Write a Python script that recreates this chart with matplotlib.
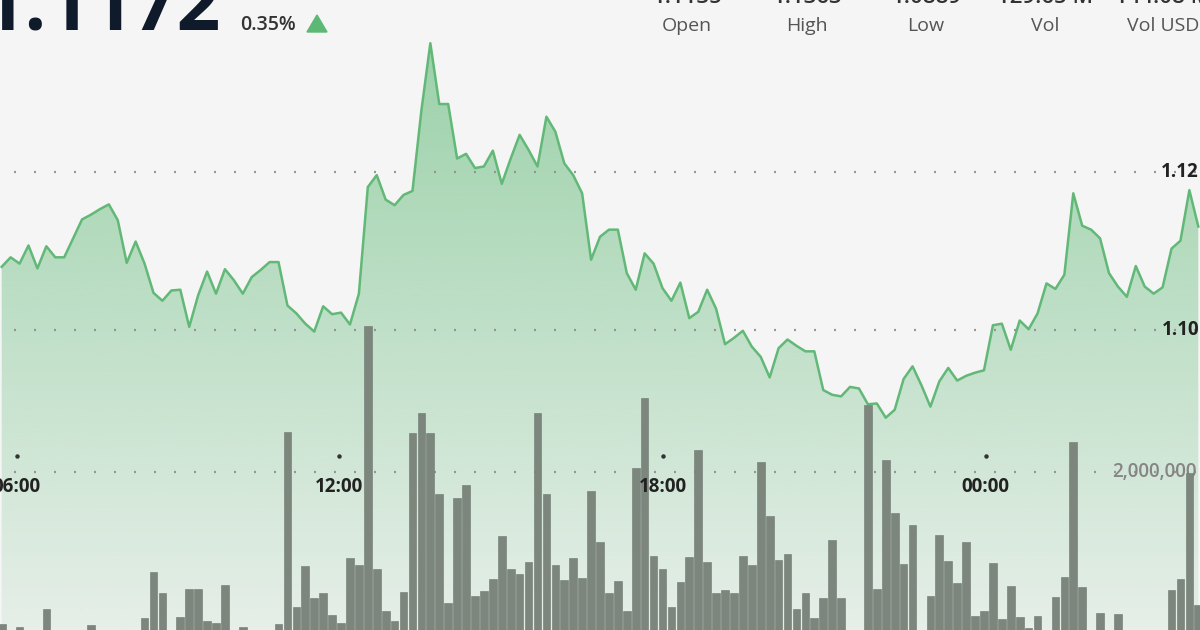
import matplotlib
matplotlib.use('Agg')
import matplotlib.pyplot as plt
import numpy as np
from matplotlib.patches import Polygon
from matplotlib.transforms import blended_transform_factory

plt.rcParams['font.family'] = ['Open Sans', 'DejaVu Sans']
plt.rcParams['lines.scale_dashes'] = False

# 10-minute samples, left to right
price = [1.1080, 1.1092, 1.1084, 1.1107, 1.1078, 1.1106, 1.1092, 1.1092, 1.1116, 1.1140,
         1.1146, 1.1153, 1.1159, 1.1139, 1.1085, 1.1112, 1.1084, 1.1047, 1.1037, 1.1050,
         1.1051, 1.1004, 1.1044, 1.1074, 1.1046, 1.1077, 1.1063, 1.1046, 1.1067, 1.1076,
         1.1086, 1.1086, 1.1031, 1.1021, 1.1008, 1.0998, 1.1030, 1.1020, 1.1022, 1.1007,
         1.1046, 1.1181, 1.1196, 1.1165, 1.1158, 1.1171, 1.1176, 1.1278, 1.1363, 1.1286,
         1.1286, 1.1217, 1.1223, 1.1205, 1.1207, 1.1227, 1.1185, 1.1217, 1.1247, 1.1228,
         1.1207, 1.1270, 1.1251, 1.1211, 1.1196, 1.1173, 1.1089, 1.1118, 1.1127, 1.1127,
         1.1072, 1.1051, 1.1097, 1.1084, 1.1053, 1.1037, 1.1060, 1.1015, 1.1023, 1.1051,
         1.1027, 1.0982, 1.0990, 1.0999, 1.0979, 1.0966, 1.0940, 1.0977, 1.0988, 1.0980,
         1.0973, 1.0973, 1.0924, 1.0918, 1.0916, 1.0928, 1.0926, 1.0906, 1.0907, 1.0889,
         1.0899, 1.0938, 1.0954, 1.0930, 1.0903, 1.0935, 1.0952, 1.0936, 1.0942, 1.0946,
         1.0949, 1.1006, 1.1008, 1.0975, 1.1012, 1.1001, 1.1021, 1.1059, 1.1052, 1.1070,
         1.1173, 1.1132, 1.1127, 1.1116, 1.1072, 1.1055, 1.1042, 1.1081, 1.1055, 1.1046,
         1.1054, 1.1103, 1.1113, 1.1177, 1.1131]

volume = [100e3, 0, 59e3, 0, 0, 287e3, 0, 0, 0, 0,
          87e3, 0, 0, 0, 0, 0, 171e3, 746e3, 484e3, 0,
          191e3, 537e3, 537e3, 141e3, 109e3, 584e3, 0, 66e3, 0, 0,
          0, 100e3, 2496e3, 309e3, 825e3, 421e3, 484e3, 212e3, 109e3, 929e3,
          837e3, 3825e3, 787e3, 266e3, 141e3, 504e3, 2484e3, 2734e3, 2484e3, 1721e3,
          366e3, 1671e3, 1834e3, 454e3, 516e3, 659e3, 1204e3, 787e3, 721e3, 879e3,
          2741e3, 1721e3, 837e3, 650e3, 921e3, 671e3, 1762e3, 1129e3, 484e3, 637e3,
          262e3, 2046e3, 2921e3, 954e3, 787e3, 316e3, 629e3, 941e3, 2275e3, 871e3,
          491e3, 525e3, 491e3, 950e3, 837e3, 2129e3, 1454e3, 900e3, 975e3, 287e3,
          484e3, 171e3, 421e3, 1150e3, 429e3, 0, 0, 2838e3, 534e3, 2150e3,
          1484e3, 846e3, 1337e3, 0, 450e3, 1212e3, 891e3, 609e3, 1129e3, 200e3,
          262e3, 859e3, 159e3, 579e3, 191e3, 46e3, 200e3, 0, 441e3, 691e3,
          2379e3, 559e3, 0, 241e3, 0, 221e3, 0, 0, 0, 0,
          0, 525e3, 659e3, 1984e3, 337e3]

tick_labels = ['06:00', '12:00', '18:00', '00:00']
tick_pos = [1.7, 37.8, 74.0, 110.2]
price_grid = [1.10, 1.12]
price_grid_labels = ['1.10', '1.12']
vol_grid = 2_000_000
vol_grid_label = '2,000,000'

last_price = '1.1172'
change = '0.35%'
stat_labels = ['Open', 'High', 'Low', 'Vol', 'Vol USD']
stat_values = ['1.1135', '1.1363', '1.0889', '129.65 M', '144.08 M']

BG = '#f5f5f5'
GREEN = '#62b877'
BAR = '#7c867d'

fig = plt.figure(figsize=(12, 6.3), dpi=100, facecolor=BG)
ax = fig.add_axes([0, 0, 1, 1])      # volume
axp = ax.twinx()                      # price
ax.set_zorder(2)
axp.set_zorder(1)
for a in (ax, axp):
    a.patch.set_visible(False)
    a.axis('off')

x = np.arange(len(price))
xlim = (-0.19, 134.19)
plim = (1.06203, 1.14177)
vlim = (25000, 7.9e6)

# gradient area under price line
verts = list(zip(x, price)) + [(x[-1], plim[0] - 0.01), (x[0], plim[0] - 0.01)]
poly = Polygon(verts, closed=True, facecolor='none', edgecolor='none', transform=axp.transData)
axp.add_patch(poly)
grad = np.zeros((256, 1, 4))
grad[..., 0], grad[..., 1], grad[..., 2] = 92 / 255, 184 / 255, 116 / 255
grad[..., 3] = np.linspace(0.62, 0.10, 256)[:, None]
im = axp.imshow(grad, aspect='auto', extent=[xlim[0], xlim[1], plim[0], plim[1]],
                origin='upper', zorder=1)
im.set_clip_path(poly)

dots = (4.25, (1.3, 13.1))
for gp, gl in zip(price_grid, price_grid_labels):
    axp.axhline(gp, color='#8e8e8e', lw=1.6, linestyle=dots, zorder=2)
    axp.text(0.9992, gp, gl, ha='right', va='center', fontsize=13.5, fontweight='bold',
             color='#222222', transform=blended_transform_factory(axp.transAxes, axp.transData),
             zorder=5)

axp.plot(x, price, color=GREEN, lw=1.8, solid_joinstyle='round', zorder=3)

# volume bars
ax.axhline(vol_grid, color='#8e8e8e', lw=1.6, linestyle=dots, zorder=1)
ax.text(0.9975, vol_grid, vol_grid_label, ha='right', va='center', fontsize=13.5,
        fontweight='semibold', color='#858585',
        transform=blended_transform_factory(ax.transAxes, ax.transData), zorder=2)
ax.bar(x, volume, width=0.86, color=BAR, edgecolor='#6e786f', lw=0.4, zorder=3)

# time axis
bt = blended_transform_factory(ax.transData, ax.transAxes)
for tp, tl in zip(tick_pos, tick_labels):
    ax.text(tp, 1 - 487 / 630, tl, ha='center', va='center', fontsize=13.5,
            fontweight='bold', color='#222222', transform=bt, zorder=4)
ax.plot(tick_pos, [1 - 455.5 / 630] * len(tick_pos), 'o', ms=2.2, color='#333333',
        transform=bt, zorder=4)

ax.set_xlim(xlim)
axp.set_xlim(xlim)
ax.set_ylim(vlim)
axp.set_ylim(plim)

# header
fig.text(221 / 1200, 1 - 30 / 630, last_price, ha='right', va='baseline', fontsize=55,
         fontweight='bold', color='#0f1b2b')
fig.text(240 / 1200, 1 - 30 / 630, change, ha='left', va='baseline', fontsize=14,
         fontweight='semibold', color='#333333')
fig.add_artist(Polygon([(307 / 1200, 1 - 32 / 630), (327 / 1200, 1 - 32 / 630),
                        (317 / 1200, 1 - 15 / 630)], closed=True, color='#5cb874',
                       transform=fig.transFigure))

stat_x = [687, 807, 926, 1045, 1163]
for sx, lab, val in zip(stat_x, stat_labels, stat_values):
    fig.text(sx / 1200, 1 - 31 / 630, lab, ha='center', va='baseline', fontsize=14,
             color='#555555')
    fig.text(sx / 1200, 1 - 3 / 630, val, ha='center', va='baseline', fontsize=16,
             fontweight='semibold', color='#333333')

fig.savefig('out.png', dpi=100, facecolor=BG)
